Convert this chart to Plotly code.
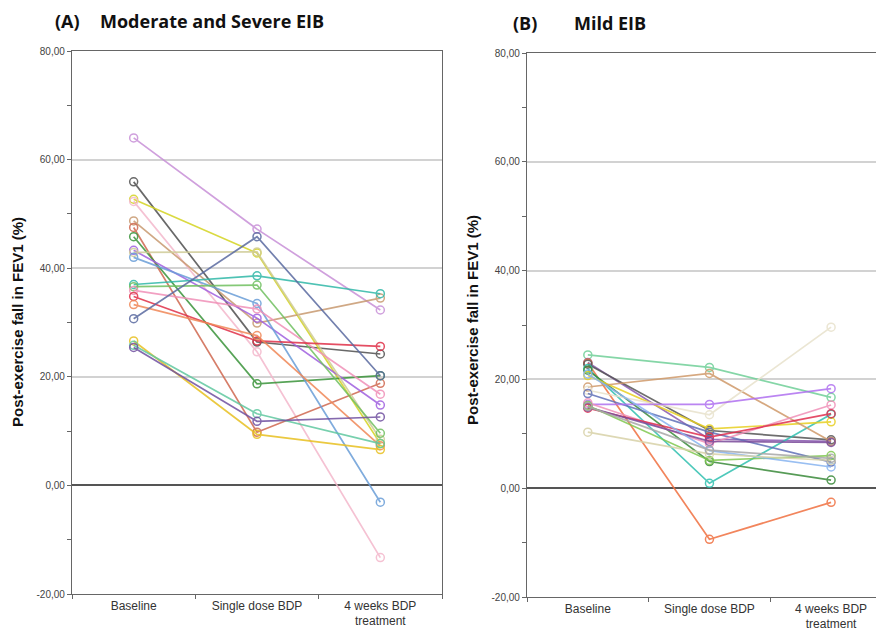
import plotly.graph_objects as go

# The page body adds an 8 px margin, so the figure is drawn 8 px in from the
# top-left corner of the 884x630 window.
PAGE_OFFSET = 8
W, H = 884 - PAGE_OFFSET, 630 - PAGE_OFFSET

CATEGORIES = ["Baseline", "Single dose BDP", "4 weeks BDP<br>treatment"]
Y_TICK_VALUES = [-20, 0, 20, 40, 60, 80]
Y_TICK_LABELS = ["-20,00", "0,00", "20,00", "40,00", "60,00", "80,00"]

# Panel A: Moderate and Severe EIB (one entry per subject)
A_BASELINE = [64.0, 55.9, 52.7, 52.3, 48.7, 47.5, 45.8, 43.3, 42.9, 42.0,
              37.0, 36.6, 35.9, 34.8, 33.3, 30.7, 26.6, 25.8, 25.4]
A_SINGLE = [47.2, 26.4, 42.8, 24.6, 29.9, 9.8, 18.7, 30.8, 43.0, 33.5,
            38.6, 36.9, 32.5, 26.6, 27.6, 45.8, 9.4, 13.2, 11.8]
A_FOUR_WEEKS = [32.3, 24.2, 7.7, -13.3, 34.5, 18.8, 20.2, 14.8, 8.5, -3.1,
                35.3, 9.6, 16.8, 25.6, 7.3, 20.2, 6.6, 7.7, 12.6]
A_COLORS = ["#c890d8", "#505050", "#d4d420", "#f4b8cc", "#c89a70", "#d06850",
            "#3a943a", "#a060e0", "#d0cc98", "#6a9ed8", "#30b8a8", "#70c060",
            "#f090b8", "#e03048", "#f08858", "#5a6aa0", "#e8c020", "#60c8a0",
            "#7050a0"]

# Panel B: Mild EIB (one entry per subject)
B_BASELINE = [24.5, 23.1, 23.0, 22.8, 22.0, 21.7, 20.7, 18.6, 18.0, 17.4,
              15.4, 15.7, 14.7, 14.9, 15.2, 21.0, 10.3, 15.0]
B_SINGLE = [22.2, 9.0, -9.4, 10.6, 0.9, 4.9, 10.9, 21.1, 13.5, 10.3,
            15.4, 8.2, 9.4, 8.6, 5.1, 6.9, 6.3, 7.0]
B_FOUR_WEEKS = [16.7, 8.6, -2.6, 8.9, 13.6, 1.5, 12.2, 8.6, 29.6, 4.8,
                18.3, 15.3, 13.7, 8.4, 6.0, 3.9, 5.1, 5.5]
B_COLORS = ["#70d098", "#8a5ab0", "#f07040", "#555555", "#30c0b0", "#3a8a3a",
            "#e8d020", "#d09a6a", "#e8e2cc", "#6070b8", "#b070f0", "#f090b8",
            "#e03050", "#7a4a9a", "#80c850", "#88b4f0", "#d8d2a8", "#a8a8a8"]

fig = go.Figure()


def add_panel(base, single, four, colors, xa, ya):
    for b, s, f, c in zip(base, single, four, colors):
        fig.add_trace(go.Scatter(
            x=CATEGORIES, y=[b, s, f], mode="lines+markers",
            line=dict(color=c, width=1.7),
            marker=dict(symbol="circle-open", size=8, line=dict(width=1.5, color=c)),
            opacity=0.85, showlegend=False, hoverinfo="skip",
            xaxis=xa, yaxis=ya))


add_panel(A_BASELINE, A_SINGLE, A_FOUR_WEEKS, A_COLORS, "x", "y")
add_panel(B_BASELINE, B_SINGLE, B_FOUR_WEEKS, B_COLORS, "x2", "y2")


def px_x(p):
    return (p - PAGE_OFFSET) / W


def px_y(p):
    return 1 - (p - PAGE_OFFSET) / H


def xaxis(domain, rng, anchor, mirror):
    return dict(
        domain=domain, anchor=anchor, type="category", automargin=False,
        categoryorder="array", categoryarray=CATEGORIES, range=rng,
        tickson="boundaries", ticks="outside", ticklen=4, tickcolor="#666",
        showgrid=False, zeroline=False,
        showline=True, linecolor="#666", linewidth=1.3, mirror=mirror,
        tickfont=dict(family="Liberation Sans, Arial", size=12, color="#333"),
        fixedrange=True)


def yaxis(domain, anchor, mirror):
    return dict(
        domain=domain, anchor=anchor, range=[-20, 80], automargin=False,
        tickmode="array", tickvals=Y_TICK_VALUES, ticktext=Y_TICK_LABELS,
        ticks="outside", ticklen=4, tickcolor="#666",
        minor=dict(dtick=10, tick0=0, ticks="outside", ticklen=4,
                   tickcolor="#666", showgrid=False),
        showgrid=True, gridcolor="#d2d2d2", gridwidth=1.6,
        zeroline=True, zerolinecolor="#555", zerolinewidth=1.6,
        showline=True, linecolor="#666", linewidth=1.3, mirror=mirror,
        tickfont=dict(family="Liberation Sans, Arial", size=10, color="#444"),
        fixedrange=True)


A_X = [px_x(72), px_x(442)]
A_Y = [px_y(594), px_y(51)]
B_X = [px_x(527), 1.0]
B_Y = [px_y(597), px_y(53)]

title_font = dict(family="Open Sans, Lato, Arial", size=18, color="#111")
axis_title_font = dict(family="Liberation Sans, Arial", size=15, color="#111")

annotations = [
    dict(text="<b>(A)</b>", x=px_x(53), y=px_y(21), xanchor="left", yanchor="middle",
         font=title_font),
    dict(text="<b>Moderate and Severe EIB</b>", x=px_x(98), y=px_y(21), xanchor="left",
         yanchor="middle", font=title_font),
    dict(text="<b>(B)</b>", x=px_x(511), y=px_y(23), xanchor="left", yanchor="middle",
         font=title_font),
    dict(text="<b>Mild EIB</b>", x=px_x(572), y=px_y(23), xanchor="left",
         yanchor="middle", font=title_font),
    dict(text="<b>Post-exercise fall in FEV1 (%)</b>", x=px_x(18), y=px_y(322),
         textangle=-90, xanchor="center", yanchor="middle", font=axis_title_font),
    dict(text="<b>Post-exercise fall in FEV1 (%)</b>", x=px_x(472), y=px_y(320),
         textangle=-90, xanchor="center", yanchor="middle", font=axis_title_font),
]
for a in annotations:
    a.update(xref="paper", yref="paper", showarrow=False)

fig.update_layout(
    width=W, height=H, autosize=False,
    margin=dict(l=0, r=0, t=0, b=0, pad=0),
    paper_bgcolor="white", plot_bgcolor="white",
    xaxis=xaxis(A_X, [-0.5, 2.5], "y", True),
    yaxis=yaxis(A_Y, "x", True),
    xaxis2=xaxis(B_X, [-0.5, 2.435], "y2", True),
    yaxis2=yaxis(B_Y, "x2", False),
    annotations=annotations,
)

fig.write_html("out.html")
